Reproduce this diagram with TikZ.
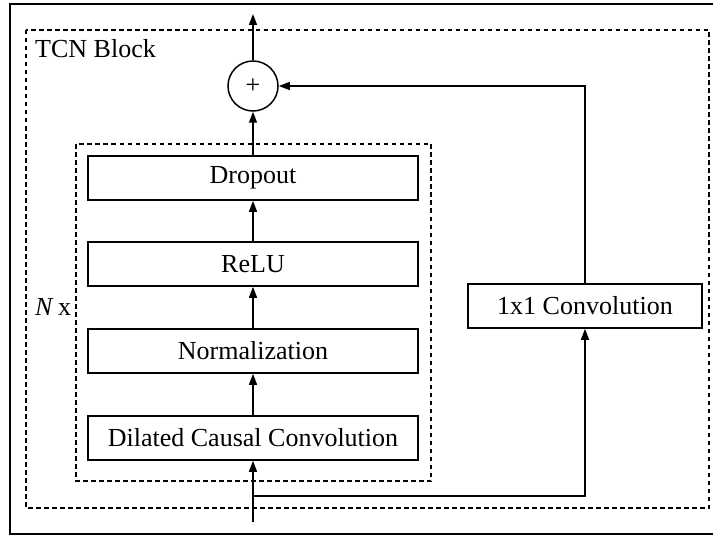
\documentclass[tikz,border=0pt]{standalone}
\usepackage{fontspec}
\setmainfont{Liberation Serif}
\usetikzlibrary{arrows.meta,positioning}
\begin{document}
\begin{tikzpicture}[x=1pt,y=-1pt,
  font=\fontsize{26}{30}\selectfont,
  layer/.style={draw,line width=1.6pt,minimum height=44pt,inner sep=0pt,anchor=center},
  flow/.style={line width=1.4pt,-{Triangle[length=11pt,width=8pt]}},
  wire/.style={line width=1.4pt},
  group/.style={draw,line width=1.5pt,dash pattern=on 4.5pt off 3.5pt}]
\useasboundingbox (0,0) rectangle (713,535);
% outer frame (open on the right)
\draw[line width=1.2pt] (713,4) -- (10,4) -- (10,534) -- (713,534);
% TCN block and repeated sub-block
\draw[group] (26,30) rectangle (709,508);
\draw[group] (76,144) rectangle (431,481);
\node[anchor=west,inner sep=0pt] (title) at (35,49) {TCN Block};
\node[anchor=west,inner sep=0pt] (rep) at (35,307) {\textit{N}\,x};
% layers
\node[layer,minimum width=330pt] (drop) at (253,178) {Dropout};
\node[layer,minimum width=330pt] (relu) at (253,264) {ReLU};
\node[layer,minimum width=330pt] (norm) at (253,351) {Normalization};
\node[layer,minimum width=330pt] (dcc)  at (253,438) {Dilated Causal Convolution};
\node[layer,minimum width=234pt] (conv) at (585,306) {1x1 Convolution};
\node[draw,circle,line width=1.5pt,minimum size=50pt,inner sep=0pt] (sum) at (253,86) {+};
% input, output and branch points
\coordinate (in) at (253,522);
\coordinate (out) at (253,14);
\coordinate (split) at (253,496);
\coordinate (corner) at (585,496);
\coordinate (bend) at (585,86);
% connectors
\draw[flow] (in) -- (dcc.south);
\draw[flow] (dcc.north) -- (norm.south);
\draw[flow] (norm.north) -- (relu.south);
\draw[flow] (relu.north) -- (drop.south);
\draw[flow] (drop.north) -- (sum.south);
\draw[flow] (sum.north) -- (out);
\draw[flow] (split) -- (corner) -- (conv.south);
\draw[flow] (conv.north) -- (bend) -- (sum.east);
\end{tikzpicture}
\end{document}
